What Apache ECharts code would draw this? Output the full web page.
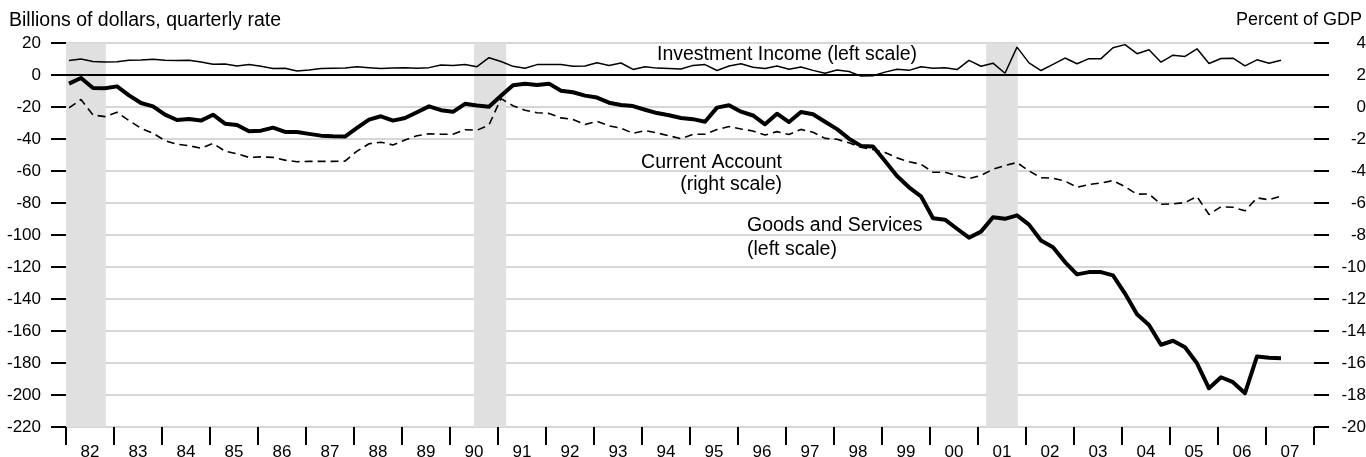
<!DOCTYPE html>
<html>
<head>
<meta charset="utf-8">
<script src="https://cdn.jsdelivr.net/npm/echarts@6/dist/echarts.min.js"></script>
<style>
html,body{margin:0;padding:0;background:#fff;}
#chart{width:1366px;height:457px;}
</style>
</head>
<body>
<div id="chart"></div>
<script>
// ---- Data (quarterly, 1982Q1 .. 2007Q2) ----
const firstYear = 1982;
const yearLabels = ['82','83','84','85','86','87','88','89','90','91','92','93','94','95','96','97','98','99','00','01','02','03','04','05','06','07'];

// Investment income, billions of dollars (left scale)
const investmentIncome = [
  9.0, 10.0, 8.5, 8.1, 8.3, 9.2, 9.4, 9.8, 9.2, 9.0,
  9.2, 8.1, 6.7, 6.9, 5.6, 6.5, 5.4, 4.0, 4.2, 2.5,
  3.1, 4.0, 4.2, 4.4, 5.2, 4.6, 4.0, 4.4, 4.6, 4.2,
  4.6, 6.3, 6.0, 6.5, 5.2, 10.8, 8.4, 5.4, 4.2, 6.5,
  6.5, 6.5, 5.5, 5.6, 7.6, 6.0, 7.5, 3.5, 5.2, 4.3,
  4.0, 3.7, 6.0, 6.5, 2.8, 5.6, 7.0, 4.9, 4.0, 5.6,
  3.6, 5.0, 2.9, 1.1, 3.1, 2.2, -0.7, -0.5, 1.8, 3.6,
  2.9, 5.2, 4.2, 4.5, 3.4, 9.1, 5.5, 7.4, 1.1, 17.4,
  7.6, 2.8, 6.6, 10.6, 7.0, 10.2, 10.2, 17.0, 19.0, 13.3,
  15.8, 8.0, 12.4, 11.6, 16.4, 7.2, 10.3, 10.5, 5.7, 9.5,
  7.4, 9.2
];

// Goods and services balance, billions of dollars (left scale)
const goodsServices = [
  -5.4, -1.9, -8.1, -8.3, -7.1, -12.7, -17.5, -19.6, -24.8, -28.1,
  -27.5, -28.5, -24.8, -30.4, -31.3, -35.2, -34.8, -32.9, -35.6, -35.6,
  -36.8, -37.9, -38.3, -38.5, -33.1, -27.9, -25.8, -28.5, -26.9, -23.3,
  -19.6, -22.0, -23.0, -18.0, -19.1, -19.8, -13.0, -6.4, -5.5, -6.3,
  -5.4, -9.8, -10.8, -12.9, -14.1, -17.3, -18.8, -19.4, -21.7, -23.8,
  -25.2, -26.9, -27.6, -29.2, -20.4, -18.9, -22.9, -25.3, -30.8, -24.2,
  -29.4, -23.1, -24.5, -29.2, -33.8, -39.8, -44.3, -44.7, -53.8, -63.1,
  -70.2, -75.8, -89.5, -90.4, -96.1, -101.7, -97.9, -88.9, -89.9, -87.7,
  -93.5, -103.4, -107.6, -116.9, -124.6, -123.2, -123.2, -125.2, -136.6, -149.5,
  -156.3, -168.6, -166.1, -170.2, -180.2, -195.8, -188.9, -192.0, -198.9, -175.9,
  -176.7, -177.1
];

// Current account, percent of GDP (right scale)
const currentAccount = [
  -0.06, 0.47, -0.5, -0.6, -0.33, -0.85, -1.33, -1.64, -2.1, -2.33,
  -2.42, -2.58, -2.28, -2.76, -2.92, -3.15, -3.12, -3.15, -3.32, -3.42,
  -3.4, -3.4, -3.4, -3.38, -2.76, -2.3, -2.2, -2.37, -2.06, -1.8,
  -1.67, -1.7, -1.7, -1.42, -1.45, -1.12, 0.52, 0.08, -0.2, -0.36,
  -0.4, -0.68, -0.78, -1.1, -0.9, -1.18, -1.33, -1.64, -1.48, -1.62,
  -1.8, -1.98, -1.7, -1.7, -1.41, -1.22, -1.37, -1.5, -1.75, -1.54,
  -1.72, -1.4, -1.58, -1.96, -2.02, -2.24, -2.52, -2.66, -2.84, -3.18,
  -3.42, -3.58, -4.08, -4.08, -4.29, -4.47, -4.28, -3.89, -3.66, -3.47,
  -4.0, -4.42, -4.45, -4.63, -5.02, -4.84, -4.75, -4.6, -4.98, -5.45,
  -5.44, -6.08, -6.06, -5.97, -5.6, -6.72, -6.23, -6.27, -6.49, -5.68,
  -5.8, -5.57
];

// Recession periods (fractional years)
const recessions = [[1982.0, 1982.83], [1990.5, 1991.17], [2001.17, 2001.83]];

// Axis scales
const leftAxis = {min: -220, max: 20, step: 20};
const rightAxis = {min: -20, max: 4, step: 2};

// ---- Build ----
const FONT = '"Liberation Sans", Arial, Helvetica, sans-serif';
function toPairs(arr) {
  return arr.map((v, i) => [firstYear + i / 4 + 1 / 16, v]);
}

const chart = echarts.init(document.getElementById('chart'), null, {renderer: 'canvas'});

const tickStyle = {show: true, length: 15, lineStyle: {color: '#000', width: 2}};

chart.setOption({
  animation: false,
  backgroundColor: '#fff',
  textStyle: {fontFamily: FONT},
  grid: {left: 66, right: 52, top: 43, bottom: 30, containLabel: false, outerBoundsMode: 'none'},
  xAxis: [
    {
      type: 'value', min: firstYear, max: firstYear + yearLabels.length, interval: 1,
      position: 'bottom',
      axisLine: {show: false, onZero: false},
      axisTick: {show: false},
      axisLabel: {show: false},
      splitLine: {show: false}
    },
    {
      type: 'category', data: yearLabels, position: 'bottom', boundaryGap: true,
      axisLine: {show: false, onZero: false},
      axisTick: {show: true, interval: 0, alignWithLabel: false, length: 18, lineStyle: {color: '#000', width: 2}},
      axisLabel: {interval: 0, margin: 17, fontSize: 17, color: '#000', fontFamily: FONT, hideOverlap: false},
      splitLine: {show: false}
    }
  ],
  yAxis: [
    {
      type: 'value', min: leftAxis.min, max: leftAxis.max, interval: leftAxis.step,
      position: 'left',
      axisLine: {show: false, onZero: false},
      axisTick: tickStyle,
      axisLabel: {margin: 25, fontSize: 17, color: '#000', fontFamily: FONT, showMinLabel: true, showMaxLabel: true},
      splitLine: {show: true, lineStyle: {color: '#c8c8c8', width: 1.5}}
    },
    {
      type: 'value', min: rightAxis.min, max: rightAxis.max, interval: rightAxis.step,
      position: 'right',
      axisLine: {show: false, onZero: false},
      axisTick: tickStyle,
      axisLabel: {margin: 52, align: 'right', fontSize: 17, color: '#000', fontFamily: FONT, showMinLabel: true, showMaxLabel: true},
      splitLine: {show: false}
    }
  ],
  series: [
    {
      name: 'Recessions', type: 'line', xAxisIndex: 0, yAxisIndex: 0, z: -1,
      data: [[firstYear, 0]], showSymbol: false, lineStyle: {opacity: 0}, silent: true,
      markArea: {
        silent: true,
        itemStyle: {color: '#e0e0e0'},
        data: recessions.map(r => [{xAxis: r[0]}, {xAxis: r[1]}])
      }
    },
    {
      name: 'Investment Income', type: 'line', xAxisIndex: 0, yAxisIndex: 0,
      data: toPairs(investmentIncome), showSymbol: false, symbol: 'none',
      lineStyle: {color: '#000', width: 1.5},
      markLine: {
        silent: true, symbol: 'none', label: {show: false},
        lineStyle: {color: '#000', width: 2, type: 'solid'},
        data: [{yAxis: 0}]
      }
    },
    {
      name: 'Current Account', type: 'line', xAxisIndex: 0, yAxisIndex: 1,
      data: toPairs(currentAccount), showSymbol: false, symbol: 'none',
      lineStyle: {color: '#000', width: 1.6, type: [8, 5]}
    },
    {
      name: 'Goods and Services', type: 'line', xAxisIndex: 0, yAxisIndex: 0,
      data: toPairs(goodsServices), showSymbol: false, symbol: 'none',
      lineStyle: {color: '#000', width: 4, join: 'round'}
    }
  ],
  graphic: [
    {type: 'text', left: 9, top: 11, style: {text: 'Billions of dollars, quarterly rate', font: '19.5px ' + FONT, fill: '#000'}},
    {type: 'text', right: 4, top: 11, style: {text: 'Percent of GDP', font: '18px ' + FONT, fill: '#000'}},
    {type: 'text', x: 657, y: 55, style: {text: 'Investment Income (left scale)', font: '19.5px ' + FONT, fill: '#000', verticalAlign: 'middle', align: 'left'}},
    {type: 'text', x: 782, y: 163, style: {text: 'Current Account', font: '19.5px ' + FONT, fill: '#000', verticalAlign: 'middle', align: 'right'}},
    {type: 'text', x: 782, y: 185, style: {text: '(right scale)', font: '19.5px ' + FONT, fill: '#000', verticalAlign: 'middle', align: 'right'}},
    {type: 'text', x: 747, y: 226, style: {text: 'Goods and Services', font: '19.5px ' + FONT, fill: '#000', verticalAlign: 'middle', align: 'left'}},
    {type: 'text', x: 747, y: 250, style: {text: '(left scale)', font: '19.5px ' + FONT, fill: '#000', verticalAlign: 'middle', align: 'left'}}
  ]
});
</script>
</body>
</html>
